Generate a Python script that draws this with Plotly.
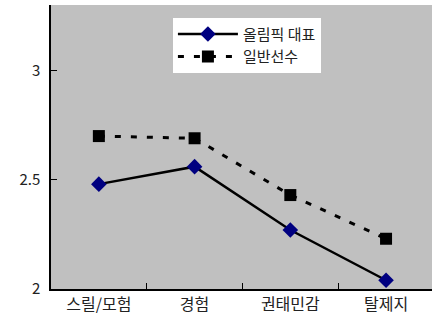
import plotly.graph_objects as go

categories = ["스릴/모험", "경험", "권태민감", "탈제지"]
olympic = [2.48, 2.56, 2.27, 2.04]
general = [2.70, 2.69, 2.43, 2.23]
series_names = ["올림픽 대표", "일반선수"]
y_ticks = [2, 2.5, 3]

font_family = "Noto Sans CJK KR, Noto Sans, sans-serif"

fig = go.Figure()
fig.add_trace(go.Scatter(
    x=categories, y=olympic, name=series_names[0], mode="lines+markers",
    line=dict(color="black", width=2.5),
    marker=dict(symbol="diamond", size=12, color="#000080"),
))
fig.add_trace(go.Scatter(
    x=categories, y=general, name=series_names[1], mode="lines+markers",
    line=dict(color="black", width=3, dash="6px,10px"),
    marker=dict(symbol="square", size=12, color="black"),
))

fig.update_layout(
    width=432, height=327,
    margin=dict(l=51, r=0, t=5, b=38),
    paper_bgcolor="white",
    plot_bgcolor="#c0c0c0",
    font=dict(family=font_family, size=15, color="#222222"),
    showlegend=True,
    legend=dict(
        x=0.32, y=0.955, xanchor="left", yanchor="top",
        bgcolor="white", borderwidth=0,
        font=dict(size=15, color="#222222"),
        itemwidth=60, tracegroupgap=0,
    ),
    xaxis=dict(
        type="category", range=[-0.5, 3.48],
        showline=True, linecolor="black", linewidth=1.5,
        ticks="inside", ticklen=6, tickcolor="black", tickson="boundaries",
        showgrid=False, zeroline=False, fixedrange=True,
        tickfont=dict(size=16),
    ),
    yaxis=dict(
        range=[2, 3.3], tickvals=y_ticks, ticktext=["2", "2.5", "3"],
        showline=True, linecolor="black", linewidth=1.5,
        ticks="inside", ticklen=6, tickcolor="black",
        showgrid=False, zeroline=False, fixedrange=True,
        ticklabelstandoff=6, tickfont=dict(size=15),
    ),
)

fig.write_html("out.html", config={"displayModeBar": False})
